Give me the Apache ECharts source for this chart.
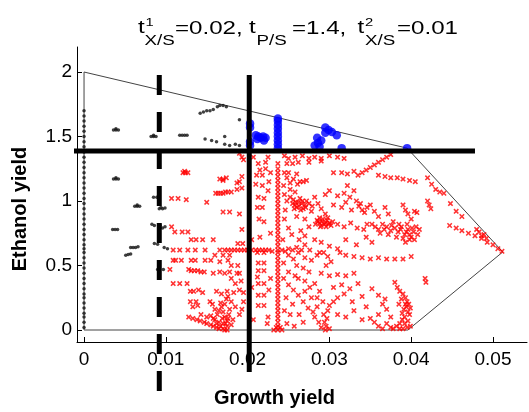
<!DOCTYPE html>
<html><head><meta charset="utf-8">
<script src="https://cdn.jsdelivr.net/npm/echarts@6/dist/echarts.min.js"></script>
<style>html,body{margin:0;padding:0;background:#fff}#c{width:529px;height:412px}</style>
</head><body><div id="c"></div>
<script>
// axis ticks
const xTicks = [0, 0.01, 0.02, 0.03, 0.04, 0.05];
const xTickLabels = ['0', '0.01', '0.02', '0.03', '0.04', '0.05'];
const yTicks = [0, 0.5, 1, 1.5, 2];
const yTickLabels = ['0', '0.5', '1', '1.5', '2'];

// thresholds
const tX1 = 0.0202, tPS = 1.388, tX2 = 0.0092;

// feasible region boundary
const boundary = [[0,0],[0,2],[0.0395,1.41],[0.0512,0.605],[0.0396,0],[0,0]];

// black points (small dots)
const blackPts = [
[0,0.02],[0,0.06],[0,0.1],[0,0.13],[0,0.17],[0,0.21],[0,0.25],[0,0.28],[0,0.32],[0,0.36],[0,0.4],[0,0.44],[0,0.48],[0,0.52],[0,0.56],[0,0.6],[0,0.63],[0,0.66],[0,0.7],[0,0.74],[0,0.78],[0,0.82],[0,0.86],[0,0.9],[0,0.94],[0,0.98],[0,1.02],[0,1.06],[0,1.1],[0,1.14],[0,1.18],[0,1.22],[0,1.26],[0,1.3],[0,1.34],[0,1.38],[0,1.42],[0,1.46],[0,1.5],[0,1.54],[0,1.58],[0,1.62],[0,1.66],[0,1.7],
[0.0036,1.55],[0.0039,1.55],[0.0042,1.55],[0.0039,1.56],
[0.0082,1.50],[0.0085,1.50],[0.0088,1.50],[0.0085,1.51],
[0.0117,1.51],[0.0120,1.51],[0.0123,1.51],[0.0126,1.51],
[0.0036,1.17],[0.0039,1.17],[0.0042,1.17],[0.0039,1.18],
[0.0085,1.03],[0.0089,1.03],
[0.0062,0.96],[0.0065,0.96],[0.0068,0.96],[0.0065,0.97],
[0.0092,0.94],[0.0096,0.94],[0.0094,0.95],[0.0099,0.945],
[0.0035,0.78],[0.0038,0.78],[0.0041,0.78],
[0.0057,0.64],[0.0060,0.64],[0.0063,0.64],[0.0066,0.645],
[0.0051,0.58],[0.0054,0.585],[0.0057,0.59],
[0.0083,0.82],[0.0086,0.81],
[0.0086,0.67],[0.0090,0.665],
[0.0098,0.64],[0.0102,0.63],
[0.0093,0.81],[0.0096,0.79],[0.0099,0.80],
[0.0090,0.47],[0.0097,0.47],
[0.0142,1.68],[0.0146,1.69],[0.0150,1.70],[0.0154,1.70],[0.0158,1.71],[0.0163,1.73],[0.0166,1.74],[0.0170,1.74],[0.0174,1.73],
[0.0190,1.63],
[0.0148,1.48],[0.0156,1.47],[0.0162,1.46],[0.0172,1.50],[0.0172,1.44],[0.0178,1.43],[0.0190,1.43],[0.0185,1.44]
];

// blue points (large dots)
const bluePts = [
[0.0203,1.60],[0.0203,1.57],[0.0203,1.43],[0.0203,1.46],
[0.0210,1.51],[0.0213,1.50],[0.0216,1.49],[0.0219,1.50],[0.0222,1.49],[0.0212,1.48],[0.0220,1.47],
[0.0237,1.64],[0.0237,1.62],[0.0237,1.59],[0.0237,1.56],[0.0237,1.53],[0.0237,1.50],[0.0237,1.47],[0.0237,1.44],[0.0237,1.41],
[0.0295,1.57],[0.0299,1.55],[0.0303,1.535],[0.0309,1.51],[0.0295,1.53],[0.0285,1.49],[0.0290,1.47],[0.0282,1.43],[0.0288,1.42],[0.0315,1.41],[0.0286,1.45],
[0.0395,1.41]
];

// red points (x markers)
const redPts = [
[0.0121,1.22],[0.0124,1.22],[0.0127,1.22],[0.0123,1.23],
[0.0107,1.02],[0.0115,1.02],[0.0125,1.01],[0.0150,0.99],
[0.0107,0.80],[0.0111,0.76],[0.0120,0.76],[0.0127,0.76],
[0.0131,0.70],[0.0137,0.70],[0.0145,0.70],[0.0158,0.70],
[0.0109,0.62],[0.0117,0.62],[0.0127,0.62],[0.0136,0.62],[0.0148,0.62],
[0.0109,0.54],[0.0112,0.54],[0.0119,0.54],[0.0131,0.54],[0.0136,0.54],[0.0148,0.54],[0.0155,0.54],
[0.0105,0.47],[0.0128,0.47],[0.0131,0.46],[0.0135,0.46],[0.0139,0.46],[0.0143,0.45],[0.0147,0.45],
[0.0109,0.36],[0.0117,0.36],[0.0126,0.36],
[0.0130,0.30],[0.0134,0.30],[0.0140,0.31],[0.0145,0.29],
[0.0130,0.22],[0.0137,0.22],[0.0154,0.22],[0.0133,0.18],[0.0139,0.19],
[0.0128,0.10],[0.0133,0.09],[0.0138,0.08],[0.0142,0.07],[0.0147,0.06],[0.0150,0.05],[0.0155,0.04],[0.0158,0.03],[0.0162,0.02],[0.0165,0.01],[0.0170,0.01],[0.0172,0.0],[0.0175,0.0],
[0.0143,0.12],[0.0150,0.10],[0.0155,0.11],[0.0160,0.08],[0.0163,0.12],[0.0165,0.15],[0.0168,0.18],[0.0170,0.14],[0.0172,0.10],[0.0175,0.07],[0.0177,0.12],[0.0170,0.05],[0.0165,0.06],[0.0175,0.03],[0.0178,0.16],[0.0172,0.20],[0.0180,0.22],[0.0176,0.26],[0.0168,0.28],[0.0182,0.08],[0.0180,0.04],[0.0160,0.16],[0.0157,0.20],
[0.0167,0.03],[0.0169,0.09],[0.0173,0.05],[0.0176,0.09],[0.0162,0.05],[0.0158,0.09],[0.0167,0.21],[0.0174,0.24],
[0.0161,1.06],[0.0164,1.06],[0.0167,1.06],[0.0170,1.06],[0.0173,1.07],[0.0176,1.07],[0.0180,1.07],
[0.0166,1.17],[0.0170,1.17],[0.0174,1.18],[0.0193,1.19],[0.0190,1.15],[0.0193,1.10],[0.0187,1.09],
[0.0170,0.915],[0.0178,0.915],[0.0190,0.90],[0.0193,0.78],
[0.0188,0.67],[0.0194,0.67],
[0.0190,1.37],[0.0195,1.32],[0.0193,1.34],[0.0187,1.14],[0.0170,1.16],
[0.0166,0.62],[0.0172,0.62],[0.0176,0.62],[0.0180,0.62],[0.0184,0.62],[0.0188,0.62],[0.0192,0.62],[0.0196,0.62],[0.0200,0.62],
[0.0160,0.58],[0.0170,0.58],[0.0178,0.58],
[0.0166,0.53],[0.0176,0.54],
[0.0180,0.50],[0.0188,0.50],[0.0190,0.44],
[0.0166,0.45],[0.0178,0.45],[0.0187,0.44],[0.0158,0.44],[0.0172,0.44],
[0.0162,0.30],[0.0175,0.30],[0.0183,0.29],[0.0190,0.31],[0.0195,0.29],
[0.0185,0.36],[0.0192,0.38],[0.0180,0.40],[0.0195,0.22],[0.0193,0.16],[0.0185,0.18],[0.0190,0.12],
[0.0237,0.0],[0.0237,0.03],[0.0237,0.06],[0.0237,0.09],[0.0237,0.12],[0.0237,0.15],[0.0237,0.18],[0.0237,0.21],[0.0237,0.24],[0.0237,0.27],[0.0237,0.30],[0.0237,0.33],[0.0237,0.36],[0.0237,0.39],[0.0237,0.42],[0.0237,0.45],[0.0237,0.48],[0.0237,0.51],[0.0237,0.54],[0.0237,0.57],[0.0237,0.60],[0.0237,0.62],[0.0237,0.65],[0.0237,0.68],[0.0237,0.71],[0.0237,0.74],[0.0237,0.77],[0.0237,0.80],[0.0237,0.83],[0.0237,0.86],[0.0237,0.89],[0.0237,0.92],[0.0237,0.95],[0.0237,0.98],[0.0237,1.01],[0.0237,1.04],[0.0237,1.07],[0.0237,1.10],[0.0237,1.13],[0.0237,1.16],[0.0237,1.19],[0.0237,1.22],[0.0237,1.25],[0.0237,1.29],
[0.0232,0.0],[0.0242,0.0],[0.0235,0.02],[0.0240,0.02],
[0.0207,1.34],[0.0215,1.24],[0.0218,1.20],[0.0211,1.20],[0.0222,1.25],[0.0210,1.13],[0.0218,1.12],[0.0225,1.08],
[0.0213,1.29],[0.0222,1.30],[0.0228,1.22],[0.0226,1.15],
[0.0213,1.03],[0.0220,1.02],[0.0212,0.95],[0.0218,0.95],[0.0214,0.86],[0.0220,0.84],
[0.0205,0.62],[0.0210,0.62],[0.0214,0.62],[0.0218,0.62],[0.0222,0.62],[0.0226,0.62],[0.0230,0.61],[0.0212,0.60],[0.0220,0.60],
[0.0213,0.52],[0.0220,0.52],[0.0213,0.46],[0.0220,0.46],[0.0212,0.41],[0.0213,0.36],[0.0220,0.36],[0.0213,0.27],[0.0220,0.27],[0.0213,0.19],[0.0220,0.19],
[0.0205,0.70],[0.0215,0.72],[0.0228,0.75],
[0.0225,0.10],[0.0228,0.40],[0.0226,0.31],[0.0224,0.05],[0.0207,0.08],[0.0205,0.33],
[0.0225,1.34],[0.0245,1.35],[0.0250,1.33],[0.0258,1.34],[0.0267,1.35],[0.0275,1.33],[0.0282,1.34],[0.0290,1.33],[0.0300,1.35],[0.0310,1.34],[0.0318,1.33],
[0.0248,1.29],[0.0255,1.29],[0.0262,1.30],[0.0275,1.30],[0.0290,1.31],
[0.0245,1.22],[0.0250,1.22],[0.0260,1.21],[0.0248,1.18],
[0.0264,1.15],[0.0268,1.15],[0.0261,1.13],[0.0256,1.17],[0.0272,1.16],
[0.0252,1.14],[0.0252,1.09],[0.0252,1.03],[0.0258,1.07],[0.0245,1.05],[0.0248,1.00],
[0.0244,1.12],[0.0246,0.93],[0.0243,0.70],[0.0244,0.52],[0.0244,0.40],[0.0245,0.15],
[0.0255,0.98],[0.0258,0.97],[0.0262,0.99],[0.0266,0.98],[0.0270,0.97],[0.0260,0.95],[0.0268,0.94],[0.0272,1.00],[0.0264,1.02],[0.0256,1.01],
[0.0259,0.99],[0.0263,0.96],[0.0267,1.00],[0.0271,0.95],[0.0257,0.94],[0.0275,0.98],[0.0279,0.96],[0.0265,0.93],
[0.0282,1.03],[0.0286,0.98],[0.0290,0.94],[0.0278,0.92],[0.0295,0.90],
[0.0285,0.85],[0.0288,0.83],[0.0291,0.84],[0.0294,0.82],[0.0297,0.85],[0.0300,0.83],[0.0290,0.81],[0.0296,0.80],[0.0283,0.82],[0.0302,0.81],[0.0288,0.87],[0.0298,0.87],
[0.0286,0.84],[0.0292,0.86],[0.0299,0.82],[0.0304,0.84],[0.0289,0.80],[0.0295,0.83],
[0.0250,0.79],[0.0254,0.74],[0.0263,0.70],[0.0270,0.66],[0.0276,0.62],[0.0288,0.60],[0.0260,0.88],[0.0270,0.86],[0.0245,0.86],[0.0275,0.80],
[0.0305,1.22],[0.0315,1.22],[0.0322,1.21],[0.0330,1.23],[0.0340,1.22],[0.0345,1.24],[0.0335,1.20],
[0.0295,1.05],[0.0300,1.08],[0.0310,1.04],[0.0318,1.06],[0.0325,1.03],[0.0330,1.08],[0.0322,1.12],
[0.0305,0.97],[0.0315,0.95],[0.0320,0.99],[0.0327,0.93],
[0.0333,1.00],[0.0336,0.96],[0.0340,0.93],[0.0343,0.91],[0.0338,0.98],[0.0346,0.95],
[0.0350,0.97],[0.0355,0.92],[0.0360,0.88],[0.0368,0.95],[0.0372,0.90],
[0.0390,0.97],[0.0393,0.93],[0.0396,0.90],[0.0400,0.86],[0.0407,0.91],[0.0404,0.92],
[0.0420,1.00],[0.0422,0.97],[0.0424,0.94],
[0.0350,1.26],[0.0355,1.28],[0.0360,1.30],[0.0365,1.32],[0.0370,1.34],[0.0375,1.36],
[0.0360,1.20],[0.0368,1.19],[0.0375,1.18],[0.0383,1.18],[0.0390,1.17],[0.0398,1.16],[0.0405,1.15],
[0.0420,1.18],[0.0425,1.13],[0.0430,1.09],[0.0435,1.07],[0.0440,1.06],[0.0448,0.98],[0.0455,0.92],[0.0462,0.88],
[0.0447,0.81],[0.0455,0.79],[0.0462,0.77],[0.0470,0.75],[0.0478,0.73],[0.0486,0.71],[0.0493,0.68],[0.0500,0.66],[0.0506,0.63],[0.0511,0.61],
[0.0483,0.76],[0.0486,0.73],[0.0489,0.74],[0.0492,0.71],[0.0480,0.78],
[0.0352,0.82],[0.0356,0.80],[0.0360,0.78],[0.0365,0.82],[0.0370,0.80],[0.0375,0.77],[0.0380,0.79],[0.0384,0.76],[0.0388,0.80],[0.0392,0.74],[0.0396,0.78],[0.0400,0.72],[0.0403,0.76],[0.0406,0.80],[0.0398,0.70],[0.0390,0.71],[0.0385,0.82],[0.0378,0.84],[0.0410,0.78],[0.0395,0.82],
[0.0362,0.75],[0.0372,0.74],[0.0382,0.72],[0.0394,0.76],[0.0401,0.79],[0.0408,0.74],[0.0387,0.78],[0.0376,0.81],[0.0367,0.78],[0.0398,0.74],[0.0404,0.70],[0.0393,0.68],
[0.0310,0.82],[0.0318,0.80],[0.0326,0.83],[0.0334,0.79],[0.0342,0.78],[0.0346,0.82],
[0.0265,0.77],[0.0270,0.73],[0.0282,0.70],[0.0290,0.68],[0.0300,0.65],[0.0310,0.63],
[0.0320,0.70],[0.0333,0.66],[0.0345,0.72],[0.0352,0.68],
[0.0313,0.60],[0.0320,0.58],[0.0330,0.57],[0.0340,0.56],[0.0350,0.55],[0.0360,0.56],[0.0370,0.55],[0.0380,0.55],[0.0390,0.55],[0.0400,0.57],
[0.0293,0.60],[0.0298,0.57],[0.0302,0.53],[0.0296,0.50],
[0.0242,0.62],[0.0246,0.61],[0.0250,0.63],[0.0255,0.62],[0.0260,0.64],[0.0266,0.62],
[0.0250,0.58],[0.0256,0.55],[0.0262,0.60],[0.0270,0.56],[0.0278,0.54],[0.0285,0.58],[0.0260,0.50],[0.0268,0.48],[0.0250,0.45],[0.0258,0.42],[0.0275,0.45],
[0.0290,0.44],[0.0300,0.42],[0.0310,0.43],[0.0320,0.42],[0.0330,0.44],
[0.0262,0.40],[0.0270,0.38],[0.0282,0.36],[0.0288,0.30],[0.0276,0.33],[0.0285,0.25],[0.0292,0.22],[0.0282,0.10],[0.0287,0.06],[0.0263,0.12],[0.0268,0.06],[0.0257,0.03],
[0.0417,0.40],[0.0418,0.37],
[0.0380,0.37],[0.0383,0.33],[0.0386,0.30],[0.0390,0.28],[0.0393,0.25],[0.0395,0.22],[0.0397,0.20],[0.0394,0.18],[0.0391,0.16],[0.0396,0.14],[0.0398,0.12],[0.0392,0.10],[0.0389,0.08],[0.0386,0.05],[0.0382,0.03],[0.0378,0.01],[0.0390,0.01],[0.0395,0.02],[0.0399,0.17],[0.0385,0.20],[0.0388,0.24],
[0.0392,0.05],[0.0396,0.07],[0.0389,0.13],[0.0393,0.20],[0.0386,0.01],[0.0399,0.03],
[0.0360,0.03],[0.0365,0.01],[0.0370,0.05],[0.0375,0.02],[0.0355,0.06],[0.0350,0.09],[0.0360,0.12],[0.0370,0.16],[0.0365,0.20],[0.0375,0.10],
[0.0352,0.32],[0.0360,0.27],[0.0368,0.24],
[0.0328,0.22],[0.0340,0.26],[0.0345,0.18],
[0.0250,0.35],[0.0256,0.31],[0.0262,0.27],[0.0268,0.22],[0.0274,0.17],[0.0280,0.14],[0.0285,0.18],[0.0278,0.25],[0.0270,0.30],
[0.0295,0.00],[0.0296,0.03],[0.0294,0.06],[0.0297,0.09],[0.0293,0.12],[0.0298,0.15],[0.0300,0.19],[0.0305,0.22],[0.0310,0.25],[0.0318,0.28],[0.0290,0.02],[0.0300,0.01],
[0.0305,0.33],[0.0315,0.35],[0.0325,0.32],[0.0335,0.36],
[0.0310,0.12],[0.0320,0.10],[0.0330,0.15],[0.0340,0.08],
[0.0248,0.05],[0.0252,0.12],[0.0255,0.20],[0.0247,0.25]
];

const X_MARK = 'path://M0,2L2,0L5,3L8,0L10,2L7,5L10,8L8,10L5,7L2,10L0,8L3,5Z';

const chart = echarts.init(document.getElementById('c'), null, {renderer: 'canvas'});
const FONT = 'Liberation Sans, Arial, Helvetica, sans-serif';

function tp(text, x, y, size) {
  return {type: 'text', x: x, y: y, scaleX: 1.34, scaleY: 1,
    style: {text: text, x: 0, y: 0, fontSize: size, fontFamily: FONT, fill: '#000', align: 'left', verticalAlign: 'middle'}};
}

chart.setOption({
  animation: false,
  backgroundColor: '#fff',
  grid: {left: 77, right: 2, top: 47, bottom: 70, containLabel: false},
  xAxis: {
    type: 'value', min: -0.00086, max: 0.05416,
    axisLine: {show: true, onZero: false, lineStyle: {color: '#000', width: 1}},
    axisTick: {show: true, inside: true, length: 5, customValues: xTicks, lineStyle: {color: '#000'}},
    axisLabel: {customValues: xTicks, fontSize: 19, color: '#000', fontFamily: FONT, margin: 8,
      formatter: v => { const i = xTicks.findIndex(t => Math.abs(t - v) < 1e-9); return i >= 0 ? xTickLabels[i] : ''; }},
    splitLine: {show: false}
  },
  yAxis: {
    type: 'value', min: -0.093, max: 2.194,
    axisLine: {show: true, onZero: false, lineStyle: {color: '#000', width: 1}},
    axisTick: {show: true, inside: true, length: 5, customValues: yTicks, lineStyle: {color: '#000'}},
    axisLabel: {customValues: yTicks, fontSize: 19, color: '#000', fontFamily: FONT, margin: 5,
      formatter: v => { const i = yTicks.findIndex(t => Math.abs(t - v) < 1e-9); return i >= 0 ? yTickLabels[i] : ''; }},
    splitLine: {show: false}
  },
  graphic: [
    tp('t', 138, 28.5, 18),
    tp('1', 145.5, 22.5, 11),
    tp('X/S', 144.5, 41.5, 14),
    tp('=0.02,', 175, 29.5, 18),
    tp('t', 249, 28.5, 18),
    tp('P/S', 256.5, 41.5, 14),
    tp('=1.4,', 292, 29.5, 18),
    tp('t', 357.5, 28.5, 18),
    tp('2', 365, 22.5, 11),
    tp('X/S', 365, 41.5, 14),
    tp('=0.01', 397, 29.5, 18),
    {type: 'text', x: 274.5, y: 398, style: {text: 'Growth yield', fontSize: 20, fontWeight: 'bold', fontFamily: FONT, fill: '#000', align: 'center', verticalAlign: 'middle'}},
    {type: 'text', x: 20, y: 209, rotation: Math.PI / 2, style: {text: 'Ethanol yield', fontSize: 20, fontWeight: 'bold', fontFamily: FONT, fill: '#000', align: 'center', verticalAlign: 'middle'}}
  ],
  series: [
    {type: 'line', data: boundary, symbol: 'none', lineStyle: {color: '#444', width: 1}, z: 1},
    {type: 'scatter', data: blackPts, symbol: 'circle', symbolSize: 3.5, itemStyle: {color: '#111'}, z: 2},
    {type: 'scatter', data: redPts, symbol: X_MARK, symbolSize: 5.5, itemStyle: {color: '#ff0000'}, z: 3},
    {type: 'scatter', data: bluePts, symbol: 'circle', symbolSize: 8.5, itemStyle: {color: '#0000ff'}, z: 4},
    {type: 'line', data: [[-0.00355, tPS], [0.0478, tPS]], symbol: 'none', clip: false, lineStyle: {color: '#000', width: 5, cap: 'butt'}, z: 5},
    {type: 'line', data: [[tX1, 1.977], [tX1, -0.326]], symbol: 'none', clip: false, lineStyle: {color: '#000', width: 5, cap: 'butt'}, z: 5},
    {type: 'line', data: [[tX2, 1.977], [tX2, -0.48]], symbol: 'none', clip: false, lineStyle: {color: '#000', width: 5, type: [20, 17], cap: 'butt'}, z: 5}
  ]
});
</script></body></html>
